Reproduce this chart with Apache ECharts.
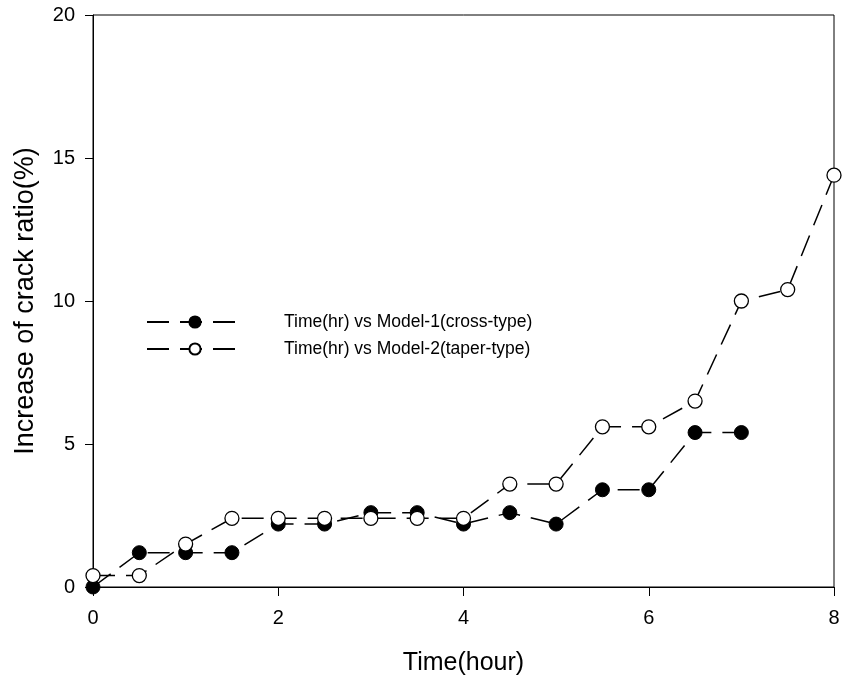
<!DOCTYPE html>
<html>
<head>
<meta charset="utf-8">
<script src="https://cdn.jsdelivr.net/npm/echarts@6/dist/echarts.min.js"></script>
<style>
  html, body { margin: 0; padding: 0; background: #fff; }
  #chart { width: 846px; height: 686px; }
</style>
</head>
<body>
<div id="chart"></div>
<script>
// Elapsed time (hours)
const timeModel1 = [0, 0.5, 1, 1.5, 2, 2.5, 3, 3.5, 4, 4.5, 5, 5.5, 6, 6.5, 7];
const timeModel2 = [0, 0.5, 1, 1.5, 2, 2.5, 3, 3.5, 4, 4.5, 5, 5.5, 6, 6.5, 7, 7.5, 8];
// Increase of crack ratio (%)
const crackModel1 = [0, 1.2, 1.2, 1.2, 2.2, 2.2, 2.6, 2.6, 2.2, 2.6, 2.2, 3.4, 3.4, 5.4, 5.4];
const crackModel2 = [0.4, 0.4, 1.5, 2.4, 2.4, 2.4, 2.4, 2.4, 2.4, 3.6, 3.6, 5.6, 5.6, 6.5, 10.0, 10.4, 14.4];
const seriesNames = ['Time(hr) vs Model-1(cross-type)', 'Time(hr) vs Model-2(taper-type)'];
const xTicks = { min: 0, max: 8, step: 2 };
const yTicks = { min: 0, max: 20, step: 5 };

const FONT = 'Liberation Sans, Arial, sans-serif';
const pair = (xs, ys) => xs.map((x, i) => [x, ys[i]]);

const chart = echarts.init(document.getElementById('chart'), null, { renderer: 'canvas' });
chart.setOption({
  animation: false,
  backgroundColor: '#fff',
  grid: {
    left: 93, right: 12, top: 15, bottom: 99,
    show: true, borderColor: '#000', borderWidth: 1, backgroundColor: 'transparent'
  },
  legend: {
    left: 141, top: 308,
    orient: 'vertical',
    itemWidth: 96, itemHeight: 14, itemGap: 9,
    textStyle: { fontFamily: FONT, fontSize: 17.5, color: '#000', padding: [0, 0, 0, 36] },
    data: seriesNames
  },
  xAxis: {
    type: 'value', min: xTicks.min, max: xTicks.max, interval: xTicks.step,
    name: 'Time(hour)', nameLocation: 'middle', nameGap: 64,
    nameTextStyle: { fontFamily: FONT, fontSize: 25, color: '#000' },
    axisLine: { show: true, lineStyle: { color: '#000', width: 1 } },
    axisTick: { show: true, inside: false, length: 9, lineStyle: { color: '#000' } },
    axisLabel: { fontFamily: FONT, fontSize: 20, color: '#000', margin: 21 },
    splitLine: { show: false }
  },
  yAxis: {
    type: 'value', min: yTicks.min, max: yTicks.max, interval: yTicks.step,
    name: 'Increase of crack ratio(%)', nameLocation: 'middle', nameGap: 54,
    nameTextStyle: { fontFamily: FONT, fontSize: 27, color: '#000' },
    axisLine: { show: true, lineStyle: { color: '#000', width: 1 } },
    axisTick: { show: true, inside: false, length: 8, lineStyle: { color: '#000' } },
    axisLabel: { fontFamily: FONT, fontSize: 20, color: '#000', margin: 18 },
    splitLine: { show: false }
  },
  series: [
    {
      name: seriesNames[0], type: 'line', clip: false,
      data: pair(timeModel1, crackModel1),
      symbol: 'circle', symbolSize: 14,
      itemStyle: { color: '#000', borderColor: '#000', borderWidth: 1 },
      lineStyle: { color: '#000', width: 1.5, type: [22, 11] },
      z: 2
    },
    {
      name: seriesNames[1], type: 'line', clip: false,
      data: pair(timeModel2, crackModel2),
      symbol: 'circle', symbolSize: 14,
      itemStyle: { color: '#fff', borderColor: '#000', borderWidth: 1.3 },
      lineStyle: { color: '#000', width: 1.5, type: [22, 11] },
      z: 3
    }
  ]
});
</script>
</body>
</html>
